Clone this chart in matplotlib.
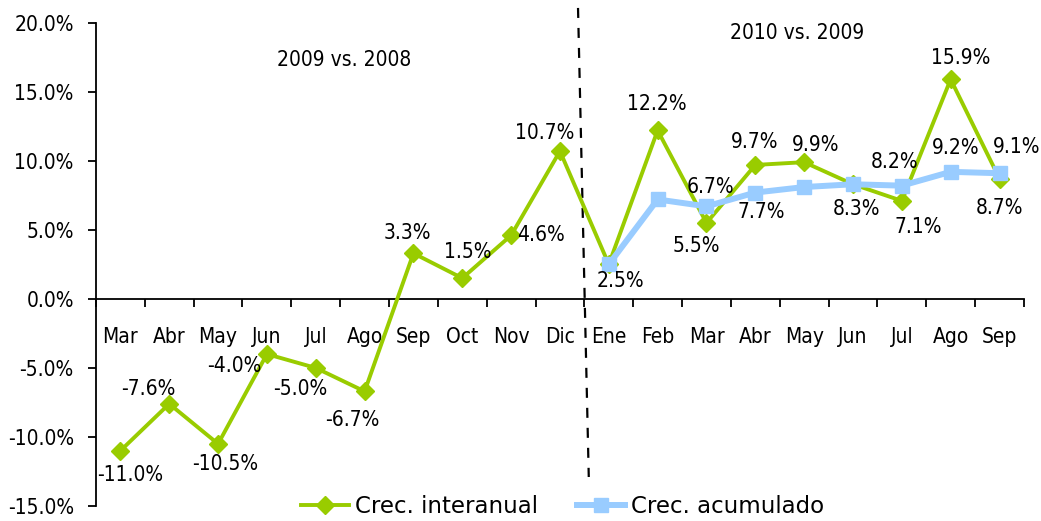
import matplotlib.pyplot as plt
from matplotlib.font_manager import FontProperties
import numpy as np

# Datos
meses = ['Mar', 'Abr', 'May', 'Jun', 'Jul', 'Ago', 'Sep', 'Oct', 'Nov', 'Dic',
         'Ene', 'Feb', 'Mar', 'Abr', 'May', 'Jun', 'Jul', 'Ago', 'Sep']
interanual = [-11.0, -7.6, -10.5, -4.0, -5.0, -6.7, 3.3, 1.5, 4.6, 10.7,
              2.5, 12.2, 5.5, 9.7, 9.9, 8.3, 7.1, 15.9, 8.7]
acumulado = [2.5, 7.2, 6.7, 7.7, 8.1, 8.3, 8.2, 9.2, 9.1]
inicio_acum = 10

# Desplazamiento de las etiquetas (pixeles, x a la derecha, y hacia abajo)
off_inter = [(10, 24), (-21, -15), (7, 20), (-33, 12), (-16, 21), (-12, 29), (-6, -20),
             (5, -26), (30, 0), (-15, -18), (12, 17), (-1, -26), (-10, 23), (-1, -23),
             (11, -17), (4, 25), (16, 26), (10, -21), (0, 29)]
off_acum = [None, None, (4, -19), (6, 19), None, None, (-7, -24), (5, -24), (17, -26)]

verde = '#99CC00'
azul = '#99CCFF'
fs = 15

plt.rcParams['font.family'] = ['DejaVu Sans']
plt.rcParams['font.stretch'] = 'condensed'

fig = plt.figure(figsize=(10.41, 5.21), dpi=100)
ax = fig.add_axes([0.0922, 0.0288, 0.8914, 0.9276])

x = np.arange(len(meses))
xa = np.arange(inicio_acum, inicio_acum + len(acumulado))

ax.plot(x, interanual, color=verde, lw=2.8, marker='D', markersize=9.5,
        label='Crec. interanual', zorder=3)
ax.plot(xa, acumulado, color=azul, lw=4.3, marker='s', markersize=9.5,
        label='Crec. acumulado', zorder=4)

for xi, v, o in zip(x, interanual, off_inter):
    ax.annotate(f'{v:.1f}%', (xi, v), xytext=(o[0] * 0.72, -o[1] * 0.72),
                textcoords='offset points', ha='center', va='center', fontsize=fs, zorder=5)
for xi, v, o in zip(xa, acumulado, off_acum):
    if o is None:
        continue
    ax.annotate(f'{v:.1f}%', (xi, v), xytext=(o[0] * 0.72, -o[1] * 0.72),
                textcoords='offset points', ha='center', va='center', fontsize=fs, zorder=5)

# Ejes
ax.set_xlim(-0.5, len(meses) - 0.5)
ax.set_ylim(-15, 20)
yt = np.arange(-15, 21, 5)
ax.set_yticks(yt)
ax.set_yticklabels([f'{t:.1f}%' for t in yt])
ax.tick_params(axis='y', direction='out', length=6, width=1.3, pad=10, labelsize=fs)

ax.set_xticks(np.arange(-0.5, len(meses), 1))
ax.set_xticklabels([])
ax.set_xticks(x, minor=True)
ax.set_xticklabels(meses, minor=True)
ax.tick_params(axis='x', which='major', direction='out', length=6, width=1.3)
ax.tick_params(axis='x', which='minor', length=0, pad=20, labelsize=fs)

ax.spines['bottom'].set_position(('data', 0))
ax.spines['top'].set_visible(False)
ax.spines['right'].set_visible(False)
ax.spines['left'].set_linewidth(1.3)
ax.spines['bottom'].set_linewidth(1.3)

# Separacion entre periodos
ax.plot([9.37, 9.59], [21.07, -12.9], color='black', lw=1.6, ls=(0, (4.5, 4.5)), clip_on=False)
ax.text(4.58, 17.3, '2009 vs. 2008', ha='center', va='center', fontsize=fs)
ax.text(13.85, 19.26, '2010 vs. 2009', ha='center', va='center', fontsize=fs)

ax.legend(loc='center', bbox_to_anchor=(0.503, -0.002), ncol=2, frameon=False,
          prop=FontProperties(family='DejaVu Sans', stretch='normal', size=16.5),
          handlelength=2.1, handletextpad=0.25, columnspacing=1.7)

fig.savefig('out.png', dpi=100)
